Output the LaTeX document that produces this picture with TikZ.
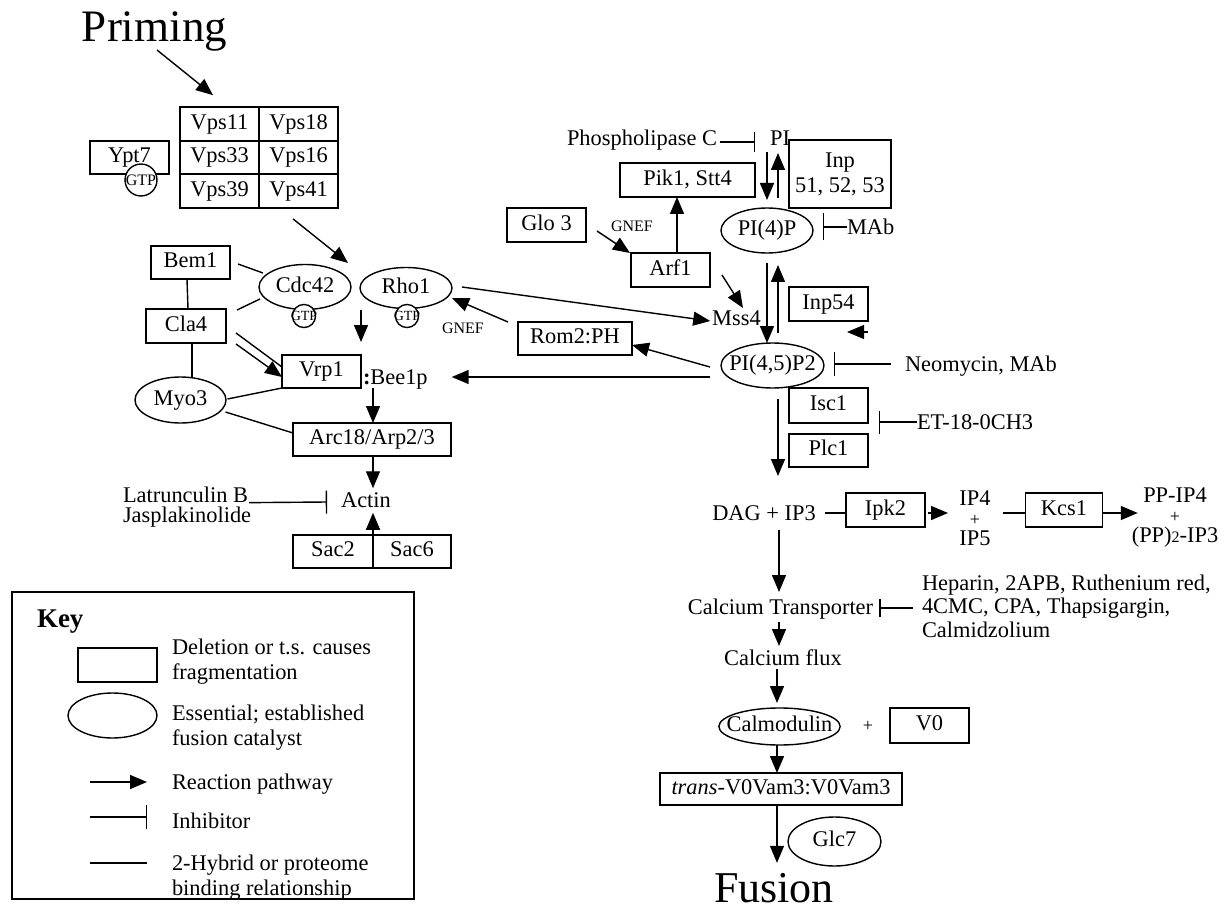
\documentclass[tikz,border=0pt]{standalone}
\usepackage{fontspec}
\setmainfont{Liberation Serif}
\usetikzlibrary{arrows.meta,shapes.geometric,calc}
\tikzset{
  every node/.style={inner sep=0pt, outer sep=0pt},
  txt/.style={text height=15.5pt, text depth=5pt},
  box/.style={draw, rectangle, txt, minimum width=79pt, minimum height=33.5pt},
  mbox/.style={draw, rectangle, align=center},
  ell/.style={draw, ellipse, txt},
  gtp/.style={draw, circle, fill=white, inner sep=-2pt, font=\fontsize{14}{14}\selectfont},
  smallf/.style={font=\fontsize{16}{16}\selectfont},
  arr/.style={-{Triangle[length=17pt,width=14pt]}},
  inh/.style={-{Bar[width=#1]}},
  inh/.default=24pt,
}
\begin{document}
\begin{tikzpicture}[x=1pt, y=-1pt, line width=1.4pt, font=\fontsize{22.4}{25}\selectfont]
\useasboundingbox (0,0) rectangle (1224,912);

% ---------- left part ----------
\node[font=\fontsize{45}{45}\selectfont, anchor=base] (priming) at (154.5,42) {Priming};
\node[box, minimum height=33.7pt] (vps11) at (219.5,124) {Vps11};
\node[box, minimum height=33.7pt] (vps18) at (298.5,124) {Vps18};
\node[box, minimum height=33.7pt] (vps33) at (219.5,157.5) {Vps33};
\node[box, minimum height=33.7pt] (vps16) at (298.5,157.5) {Vps16};
\node[box, minimum height=33.7pt] (vps39) at (219.5,191) {Vps39};
\node[box, minimum height=33.7pt] (vps41) at (298.5,191) {Vps41};
\node[box, minimum height=33pt] (ypt7) at (129.5,157.5) {Ypt7};
\node[gtp, inner sep=0pt, font=\fontsize{16}{16}\selectfont] (ypt7gtp) at (141,180) {GTP};

\node[box, minimum height=33pt] (bem1) at (190.5,262.5) {Bem1};
\node[box, minimum width=80pt, minimum height=34pt] (cla4) at (186,326) {Cla4};
\node[ell, minimum width=92pt, minimum height=45pt] (cdc42) at (305,287) {Cdc42};
\node[gtp] (cdc42gtp) at (304,316) {GTP};
\node[ell, minimum width=92pt, minimum height=41pt] (rho1) at (406,288) {Rho1};
\node[gtp] (rho1gtp) at (407,316) {GTP};
\node[smallf] (gnef1) at (463,328) {GNEF};
\node[box, minimum height=33pt] (vrp1) at (321.5,371.5) {Vrp1};
\node[txt, anchor=west] (bee1p) at (363,379.5) {{\bfseries :}Bee1p};
\node[ell, minimum width=91pt, minimum height=46pt] (myo3) at (180.5,400) {Myo3};
\node[box, minimum width=158pt, minimum height=33pt] (arc18) at (372,439.5) {Arc18/Arp2/3};
\node[txt] (actin) at (366,502.5) {Actin};
\node[align=left, anchor=west, font=\fontsize{22.4}{20}\selectfont] (latr) at (123,506.8) {Latrunculin B\\Jasplakinolide};
\node[box, minimum width=80pt, minimum height=33pt] (sac2) at (333,551.5) {Sac2};
\node[box, minimum width=78pt, minimum height=33pt] (sac6) at (412,551.5) {Sac6};

% ---------- key ----------
\node[draw, line width=1.1pt, minimum width=402pt, minimum height=307pt] (keybox) at (213,745.5) {};
\node[font=\fontsize{27}{27}\selectfont\bfseries, anchor=base west] (keytitle) at (37,627) {Key};
\node[box, minimum height=34pt] (keyrect) at (117.5,665) {};
\node[align=left, anchor=west] (keyrecttxt) at (172,661.8) {Deletion or t.s. causes\\fragmentation};
\node[ell, minimum width=89pt, minimum height=45pt] (keyell) at (112.5,715.5) {};
\node[align=left, anchor=west] (keyelltxt) at (172,728) {Essential; established\\fusion catalyst};
\node[txt, anchor=west] (keyarrtxt) at (172,784.5) {Reaction pathway};
\node[txt, anchor=west] (keyinhtxt) at (172,823) {Inhibitor};
\node[align=left, anchor=west] (keylinetxt) at (172,877.3) {2-Hybrid or proteome\\binding relationship};

% ---------- right part ----------
\node[txt, anchor=east] (phosC) at (717,140.5) {Phospholipase C};
\node[txt] (pi) at (780,140.5) {PI};
\node[box, minimum width=135pt, minimum height=34pt] (pik1) at (687.5,180) {Pik1, Stt4};
\node[mbox, minimum width=102pt, minimum height=68pt] (inp) at (840,174) {Inp\\51, 52, 53};
\node[ell, minimum width=92pt, minimum height=45pt] (pi4p) at (767,230.5) {PI(4)P};
\node[txt, anchor=west] (mab) at (847,229.5) {MAb};
\node[box, minimum height=34pt] (glo3) at (546.5,225) {Glo 3};
\node[smallf] (gnef2) at (632,226) {GNEF};
\node[box, minimum height=34pt] (arf1) at (670.5,270) {Arf1};
\node[txt] (mss4) at (736.5,320.5) {Mss4};
\node[box, minimum height=34pt] (inp54) at (828.5,304) {Inp54};
\node[box, minimum width=114pt, minimum height=33pt] (rom2) at (575,338.5) {Rom2:PH};
\node[ell, minimum width=103pt, minimum height=45pt, inner xsep=-7pt] (pi45) at (772.5,365.5) {PI(4,5)P2};
\node[txt, anchor=west] (neo) at (905,366.5) {Neomycin, MAb};
\node[box, minimum height=35pt] (isc1) at (828.5,405.5) {Isc1};
\node[txt, anchor=west] (et18) at (917,424.5) {ET-18-0CH3};
\node[box, minimum height=33pt] (plc1) at (828.5,450.5) {Plc1};
\node[txt] (dag) at (764,515.5) {DAG + IP3};
\node[box, minimum height=34pt] (ipk2) at (885.5,510) {Ipk2};
\node[align=center, font=\fontsize{22.4}{20}\selectfont] (ip45) at (975,518.5) {IP4\\{\fontsize{18}{18}\selectfont +}\\IP5};
\node[box, minimum width=77pt, minimum height=34pt] (kcs1) at (1064,510) {Kcs1};
\node[align=center, font=\fontsize{22.4}{20}\selectfont] (ppip) at (1175,517.8) {PP-IP4\\{\fontsize{18}{18}\selectfont +}\\(PP){\fontsize{16}{16}\selectfont 2}-IP3};
\node[txt] (catrans) at (780.5,609.5) {Calcium Transporter};
\node[align=left, anchor=west, font=\fontsize{22.4}{23.5}\selectfont] (hep) at (922,606) {Heparin, 2APB, Ruthenium red,\\4CMC, CPA, Thapsigargin,\\Calmidzolium};
\node[txt] (caflux) at (783,660.5) {Calcium flux};
\node[ell, minimum width=121pt, minimum height=37pt, inner xsep=-10pt] (calmod) at (779.5,726.5) {Calmodulin};
\node[font=\fontsize{18}{18}\selectfont] (plus) at (868,726) {+};
\node[box, minimum height=35pt] (v0) at (929.5,725.5) {V0};
\node[box, minimum width=242pt, minimum height=32pt] (trans) at (781,789) {\textit{trans}-V0Vam3:V0Vam3};
\node[ell, minimum width=93pt, minimum height=49pt] (glc7) at (834.5,841.5) {Glc7};
\node[font=\fontsize{44}{44}\selectfont, anchor=base] (fusion) at (774,902) {Fusion};

% ---------- connectors, left ----------
\draw[arr] ($(priming.base)+(2.5,8)$) -- ($(vps11.north)+(-6.5,-12)$);
\draw[arr] ($(vps41.south)+(-5.5,11)$) -- ($(rho1.west)+(-12,-25)$);
\draw ($(bem1.east)+(8,1.5)$) -- ($(cdc42.west)+(4,-14)$);
\draw ($(cla4.north east)+(11,1)$) -- ($(cdc42.west)+(1,12)$);
\draw ($(bem1.south)+(-3.5,0)$) -- ($(cla4.north)+(2,0)$);
\draw ($(cla4.south)+(6,0)$) -- ($(myo3.north)+(11.5,0)$);
\draw ($(myo3.east)+(1.5,-1)$) -- (vrp1.south west);
\draw ($(myo3.east)+(-0.5,12)$) -- ($(arc18.west)+(0,-6.5)$);
\draw ($(cla4.east)+(10,7)$) -- ($(vrp1.west)+(0,-4.5)$);
\draw[arr] ($(cla4.east)+(10,18)$) -- ($(vrp1.west)+(0,5.5)$);
\draw[arr] ($(vrp1.north east)+(0,-45)$) -- ($(vrp1.north east)+(0,-13)$);
\draw[arr] ($(rom2.north west)+(-10,0)$) -- ($(rho1.east)+(0,10)$);
\draw[arr] ($(rho1.east)+(10,-1)$) -- ($(mss4.west)+(-2,0.5)$);
\draw[arr] ($(bee1p.south west)+(10,-1.75)$) -- ($(arc18.north)+(1,0)$);
\draw[arr] ($(arc18.south)+(1,0)$) -- ($(actin.north)+(7,-4)$);
\draw[inh=23pt] ($(latr.north east)+(-2,16)$) -- ($(actin.west)+(-14,-0.5)$);
\draw[arr] (sac2.south east) -- ($(actin.south)+(7,0)$);

% ---------- key samples ----------
\draw[arr] ($(keyarrtxt.west)+(-82,-2.5)$) -- ($(keyarrtxt.west)+(-25,-2.5)$);
\draw[inh] ($(keyinhtxt.west)+(-82,-6)$) -- ($(keyinhtxt.west)+(-25,-6)$);
\draw ($(keylinetxt.west)+(-82,-14.5)$) -- ($(keylinetxt.west)+(-25,-14.5)$);

% ---------- connectors, right ----------
\draw[inh=20pt] ($(phosC.east)+(3,1.5)$) -- ($(pi.west)+(-15,1.5)$);
\draw[arr] ($(pi.south)+(-13,1.25)$) -- ($(pi4p.north)+(0,-8)$);
\draw[arr] ($(pi4p.north)+(11,-10)$) -- ($(pi.south)+(-2,2.25)$);
\draw[arr] ($(arf1.north)+(6.5,0)$) -- ($(pik1.south)+(-10.5,0)$);
\draw[arr] ($(glo3.east)+(11,6)$) -- ($(arf1.north west)+(-1,0)$);
\draw[arr] ($(arf1.east)+(12,5)$) -- ($(mss4.north)+(6.5,-2.25)$);
\draw[inh=27pt] ($(mab.west)+(0,-2.5)$) -- ($(pi4p.east)+(10,-3.5)$);
\draw[arr] ($(pi4p.south)+(0,10)$) -- ($(pi45.north)+(-5.5,0)$);
\draw[arr] ($(pi45.north)+(5.5,-10)$) -- ($(pi4p.south)+(11,12)$);
\draw[arr] ($(inp54.south east)+(0,11)$) -- ($(inp54.south east)+(-21,11)$);
\draw[arr] ($(pi45.west)+(-11,1.5)$) -- ($(rom2.east)+(0,6.5)$);
\draw[arr] ($(pi45.west)+(-11,11.5)$) -- ($(bee1p.east)+(24,-2.5)$);
\draw[inh] ($(neo.west)+(-14,-2.5)$) -- ($(pi45.east)+(10,-1.5)$);
\draw[inh=23pt] ($(et18.west)+(0,-2.5)$) -- ($(isc1.east)+(11,16.5)$);
\draw[arr] ($(pi45.south)+(5.5,11)$) -- ($(dag.north)+(14,-29.25)$);
\draw ($(dag.east)+(9,-2.5)$) -- ($(ipk2.west)+(0,3)$);
\draw[arr] ($(ipk2.east)+(3,3)$) -- ($(ip45.west)+(-11.4,-5.5)$);
\draw ($(ip45.east)+(12.5,-5.5)$) -- ($(kcs1.west)+(0,3)$);
\draw[arr] ($(kcs1.east)+(0,3)$) -- ($(ppip.west)+(6,-4.8)$);
\draw[arr] ($(dag.south)+(15,4.25)$) -- ($(catrans.north)+(-1.5,-7.25)$);
\draw[inh=18pt] ($(hep.west)+(-9,2)$) -- ($(catrans.east)+(6,-1.5)$);
\draw[arr] ($(catrans.south)+(-1.5,2.25)$) -- ($(caflux.north)+(-4,-4.25)$);
\draw[arr] ($(caflux.south)+(-6,-1.75)$) -- ($(calmod.north)+(-2.5,-5)$);
\draw[arr] ($(calmod.south)+(-2.5,0)$) -- ($(trans.north)+(-4,0)$);
\draw[arr] ($(trans.south)+(-4,0)$) -- ($(fusion.north)+(3,-10)$);
\end{tikzpicture}
\end{document}
